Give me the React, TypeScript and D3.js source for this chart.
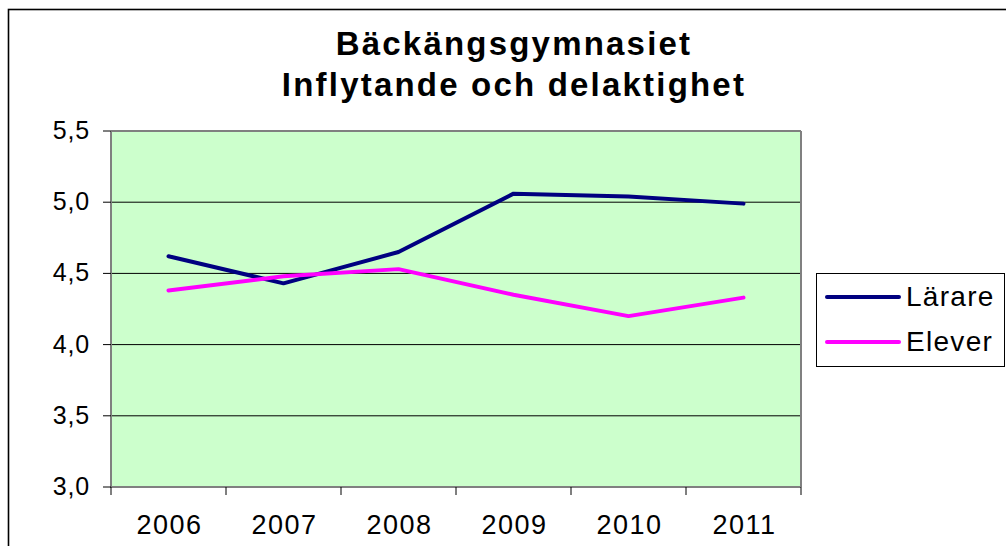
import React from "react";
import * as d3 from "d3";

const years = ["2006", "2007", "2008", "2009", "2010", "2011"];
const lararValues = [4.62, 4.43, 4.65, 5.06, 5.04, 4.99];
const eleverValues = [4.38, 4.48, 4.53, 4.35, 4.2, 4.33];
const yTicks = [3.0, 3.5, 4.0, 4.5, 5.0, 5.5];
const seriesNames = ["Lärare", "Elever"];
const seriesColors = ["#000080", "#FF00FF"];
const titleLines = ["Bäckängsgymnasiet", "Inflytande och delaktighet"];

const W = 1006;
const H = 546;
const plot = { left: 111, right: 801, top: 131, bottom: 487 };

export default function App() {
  const x = d3.scaleBand<string>().domain(years).range([plot.left, plot.right]);
  const y = d3.scaleLinear().domain([3, 5.5]).range([plot.bottom, plot.top]);
  const line = d3
    .line<number>()
    .x((_, i) => (x(years[i]) as number) + x.bandwidth() / 2)
    .y((d) => y(d));
  const series = [lararValues, eleverValues];
  const font = "'Liberation Sans', Arial, sans-serif";
  const fmt = (v: number) => v.toFixed(1).replace(".", ",");
  const boundaries = [...years.map((yr) => x(yr) as number), plot.right];

  return (
    <svg
      width={W}
      height={H}
      style={{ position: "absolute", left: 0, top: 0, background: "#fff" }}
      fontFamily={font}
    >
      <rect x={8.5} y={9.5} width={1100} height={600} fill="#fff" stroke="#000" strokeWidth={1.6} />
      {titleLines.map((t, i) => (
        <text
          key={t}
          x={514}
          y={55 + i * 41}
          textAnchor="middle"
          fontSize={33}
          fontWeight="bold"
          letterSpacing={2.2}
          fill="#000"
        >
          {t}
        </text>
      ))}
      <rect
        x={plot.left}
        y={plot.top}
        width={plot.right - plot.left}
        height={plot.bottom - plot.top}
        fill="#CCFFCC"
      />
      {yTicks
        .filter((t) => t > 3 && t < 5.5)
        .map((t) => (
          <line key={t} x1={plot.left} x2={plot.right} y1={y(t)} y2={y(t)} stroke="#000" strokeWidth={1} />
        ))}
      <line x1={plot.left} x2={plot.right} y1={plot.top} y2={plot.top} stroke="#808080" strokeWidth={2} />
      <line x1={plot.right} x2={plot.right} y1={plot.top} y2={plot.bottom} stroke="#808080" strokeWidth={2} />
      <line x1={plot.left} x2={plot.left} y1={plot.top} y2={plot.bottom + 1} stroke="#808080" strokeWidth={2} />
      <line x1={plot.left} x2={plot.right} y1={plot.bottom} y2={plot.bottom} stroke="#808080" strokeWidth={2} />
      {yTicks.map((t) => (
        <g key={t}>
          <line x1={plot.left - 8} x2={plot.left} y1={y(t)} y2={y(t)} stroke="#000" strokeWidth={1} />
          <text x={90} y={y(t) + 8} textAnchor="end" fontSize={25} letterSpacing={0.8} fill="#000">
            {fmt(t)}
          </text>
        </g>
      ))}
      {boundaries.map((b, i) => (
        <line key={i} x1={b} x2={b} y1={plot.bottom} y2={plot.bottom + 8} stroke="#000" strokeWidth={1} />
      ))}
      {years.map((yr) => (
        <text
          key={yr}
          x={(x(yr) as number) + x.bandwidth() / 2 + 1}
          y={534}
          textAnchor="middle"
          fontSize={27}
          letterSpacing={1.5}
          fill="#000"
        >
          {yr}
        </text>
      ))}
      {series.map((s, i) => (
        <path
          key={i}
          d={line(s) as string}
          fill="none"
          stroke={seriesColors[i]}
          strokeWidth={4}
          strokeLinejoin="round"
          strokeLinecap="round"
        />
      ))}
      <rect x={816.5} y={273.5} width={188} height={93} fill="#fff" stroke="#000" strokeWidth={1} />
      {seriesNames.map((n, i) => (
        <g key={n}>
          <line
            x1={827}
            x2={899}
            y1={297 + i * 45}
            y2={297 + i * 45}
            stroke={seriesColors[i]}
            strokeWidth={4}
            strokeLinecap="round"
          />
          <text x={906} y={306 + i * 45} fontSize={28} letterSpacing={1.3} fill="#000">
            {n}
          </text>
        </g>
      ))}
    </svg>
  );
}
